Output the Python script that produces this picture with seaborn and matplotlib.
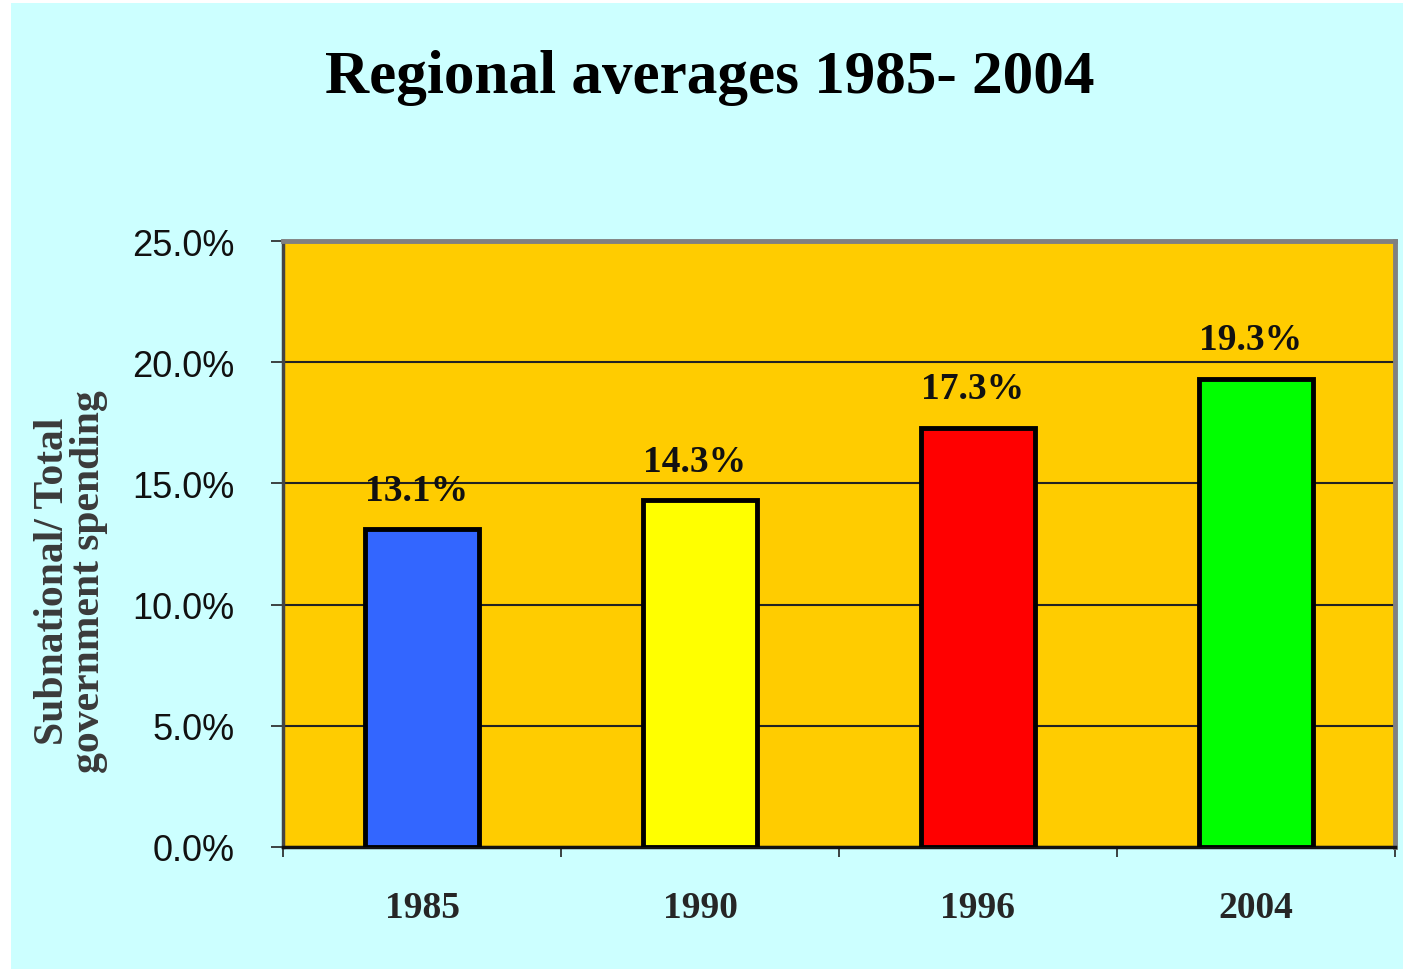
import matplotlib
matplotlib.use("Agg")
import matplotlib.pyplot as plt
import seaborn as sns
import pandas as pd
from matplotlib.patches import Rectangle

# Data
years = ["1985", "1990", "1996", "2004"]
shares = [13.1, 14.3, 17.3, 19.3]
bar_colors = ["#3366FF", "#FFFF00", "#FF0000", "#00FF00"]
y_ticks = [0, 5, 10, 15, 20, 25]

df = pd.DataFrame({"year": years, "share": shares})

sns.set_theme(style="white")
plt.rcParams["font.family"] = ["Liberation Serif", "DejaVu Serif"]

fig = plt.figure(figsize=(14.03, 9.70), dpi=100, facecolor="white")
# cyan slide background
fig.patches.append(Rectangle((11 / 1403, 0), 1 - 11 / 1403, 1 - 4 / 970,
                             transform=fig.transFigure, facecolor="#CCFFFF",
                             edgecolor="none", zorder=-10))

ax = fig.add_axes([283 / 1403, 122 / 970, 1112 / 1403, 606 / 970])
ax.set_facecolor("#FFCC00")

sns.barplot(data=df, x="year", y="share", hue="year", palette=bar_colors,
            legend=False, width=0.41, edgecolor="black", linewidth=3.5,
            saturation=1, ax=ax, zorder=3)

ax.set_ylim(0, 25)
ax.set_xlim(-0.5, 3.5)
ax.set_yticks(y_ticks)
ax.set_yticklabels([f"{t:.1f}%" for t in y_ticks], family="Liberation Sans",
                   fontsize=26, color="#111111")
ax.yaxis.grid(True, color="#222222", linewidth=1.5, zorder=1)
ax.set_axisbelow(True)

# ticks between categories, labels centered
ax.set_xticks([-0.5, 0.5, 1.5, 2.5, 3.5])
ax.set_xticklabels([])
ax.set_xticks(range(len(years)), minor=True)
ax.set_xticklabels(years, minor=True, fontsize=27, fontweight="bold")
ax.tick_params(axis="x", which="major", direction="out", length=7, width=1.2,
               color="#222222", bottom=True)
ax.tick_params(axis="x", which="minor", length=0, pad=31)
ax.tick_params(axis="y", direction="out", length=9, width=1.2,
               color="#222222", left=True, pad=26)

for side, col, lw in [("top", "#808080", 3.5), ("right", "#808080", 3.5),
                      ("left", "#444444", 2.5), ("bottom", "#111111", 2.5)]:
    ax.spines[side].set_visible(True)
    ax.spines[side].set_color(col)
    ax.spines[side].set_linewidth(lw)

for i, v in enumerate(shares):
    ax.text(i - 0.02, v + 0.9, f"{v:.1f}%", ha="center", va="bottom",
            fontsize=27, fontweight="bold", color="#111111", zorder=4)

ax.set_xlabel("")
ax.set_ylabel("Subnational/ Total\ngovernment spending", fontsize=30,
              fontweight="bold", color="#3a3a3a", linespacing=0.95)
ax.yaxis.set_label_coords(-0.157, 0.44)

fig.text(710 / 1403, 1 - 78 / 970, "Regional averages 1985- 2004",
         ha="center", va="center", fontsize=44, fontweight="bold",
         color="black")

fig.savefig("out.png", dpi=100, facecolor=fig.get_facecolor())
